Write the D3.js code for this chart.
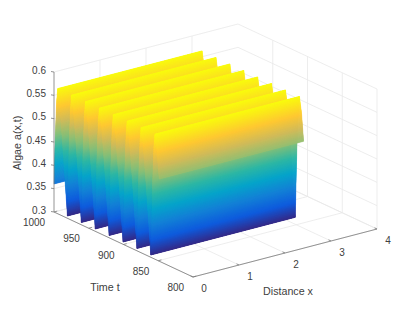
<!DOCTYPE html>
<html><head><meta charset="utf-8">
<script src="https://cdn.jsdelivr.net/npm/d3@7"></script>
<style>html,body{margin:0;padding:0;background:#fff}svg{display:block}text{font-family:"Liberation Sans",Arial,sans-serif;fill:#404040}</style>
</head><body><svg id="c" width="415" height="312"></svg>
<script>
const xTicks = [0,1,2,3,4];
const tTicks = [800,850,900,950,1000];
const zTicks = [0.3,0.35,0.4,0.45,0.5,0.55,0.6];
const zTickLabels = ["0.3","0.35","0.4","0.45","0.5","0.55","0.6"];
const surfaceX = [0, 3.14];
// surface profile along time, far to near
const surfaceT = [1000,998.5,996.2,994.7,991.7,988.7,980.7,978.5,976.2,974.7,971.7,968.7,960.7,958.5,956.2,954.7,951.7,948.7,940.7,938.5,936.2,934.7,931.7,928.7,920.7,918.5,916.2,914.7,911.7,908.7,900.7,898.5,896.2,894.7,891.7,888.7,880.7,878.5,876.2,874.7,871.7,868.7,860.7,858.5,856.2,854.7,851.7,848.7];
const surfaceA = [0.36,0.45,0.54,0.568,0.535,0.476,0.305,0.45,0.54,0.568,0.535,0.476,0.305,0.45,0.54,0.568,0.535,0.476,0.305,0.45,0.54,0.568,0.535,0.476,0.305,0.45,0.54,0.568,0.535,0.476,0.305,0.45,0.54,0.568,0.535,0.476,0.305,0.45,0.54,0.568,0.535,0.476,0.305,0.45,0.54,0.568,0.535,0.476];
const parula = ["#352a87","#0f5cdd","#1481d6","#06a4ca","#2eb7a4","#87bf77","#d1bb59","#fec832","#f9fb0e"];
const parulaStops = [0,0.125,0.25,0.375,0.5,0.625,0.75,0.86,1];

const fx = d3.scaleLinear().domain([0,4]).range([0,1]);
const ft = d3.scaleLinear().domain([800,1000]).range([0,1]);
const fz = d3.scaleLinear().domain([0.3,0.6]).range([0,1]);
const O=[193,277], EX=[184,-48], ET=[-139,-65], EZ=[0,-140];
function P(x,t,z){
  const a=fx(x),b=ft(t),c=fz(z);
  return [O[0]+a*EX[0]+b*ET[0]+c*EZ[0], O[1]+a*EX[1]+b*ET[1]+c*EZ[1]];
}
const color = d3.scaleLinear()
  .domain(parulaStops.map(s=>0.305+(0.568-0.305)*s))
  .range(parula).clamp(true);

const svg = d3.select("#c");
const grid = svg.append("g").attr("stroke","#e8e8e8").attr("stroke-width",0.8).attr("fill","none");
const seg=(g,a,b,col)=>{const l=g.append("line").attr("x1",a[0]).attr("y1",a[1]).attr("x2",b[0]).attr("y2",b[1]);if(col)l.attr("stroke",col);return l;};
xTicks.forEach(x=>{
  seg(grid,P(x,800,0.3),P(x,1000,0.3));
  if(x>0&&x<4) seg(grid,P(x,1000,0.3),P(x,1000,0.6));
});
tTicks.forEach(t=>{
  seg(grid,P(0,t,0.3),P(4,t,0.3));
  if(t<1000) seg(grid,P(4,t,0.3),P(4,t,0.6));
});
zTicks.forEach(z=>{
  seg(grid,P(0,1000,z),P(4,1000,z));
  seg(grid,P(4,1000,z),P(4,800,z));
});

// surface
const surf = svg.append("g");
const line = d3.line();
for(let i=0;i<surfaceT.length-1;i++){
  const t0=surfaceT[i],t1=surfaceT[i+1],z0=surfaceA[i],z1=surfaceA[i+1];
  const n=Math.max(1,Math.ceil(Math.abs(z1-z0)/0.001));
  const mix=(a,b,u)=>a+(b-a)*u;
  d3.range(n).forEach(k=>{
    const u0=k/n,u1=(k+1)/n;
    const ta=mix(t0,t1,u0),tb=mix(t0,t1,u1),za=mix(z0,z1,u0),zb=mix(z0,z1,u1);
    const c=color((za+zb)/2);
    surf.append("path")
      .attr("d",line([P(surfaceX[0],ta,za),P(surfaceX[1],ta,za),P(surfaceX[1],tb,zb),P(surfaceX[0],tb,zb)])+"Z")
      .attr("fill",c).attr("stroke",c).attr("stroke-width",0.5);
  });
}

// axes
const ax = svg.append("g").attr("stroke","#7a7a7a").attr("stroke-width",0.8).attr("fill","none");
seg(ax,P(0,1000,0.3),P(0,1000,0.6));
seg(ax,P(0,1000,0.3),P(0,800,0.3));
seg(ax,P(0,800,0.3),P(4,800,0.3));
zTicks.forEach(z=>{const p=P(0,1000,z);seg(ax,[p[0]-3,p[1]-0.5],p);});
tTicks.forEach(t=>{const p=P(0,t,0.3);seg(ax,p,[p[0]+3.2,p[1]-0.9]);});
xTicks.forEach(x=>{const p=P(x,800,0.3);seg(ax,p,[p[0]-2.5,p[1]-1.2]);});

const txt=(s,x,y,size,anchor,rot)=>{
  const e=svg.append("text").text(s).attr("font-size",size).attr("text-anchor",anchor)
    .attr("dominant-baseline","central");
  if(rot) e.attr("transform",`translate(${x},${y}) rotate(${rot})`);
  else e.attr("x",x).attr("y",y);
};
zTicks.forEach((z,i)=>{const p=P(0,1000,z);txt(zTickLabels[i],p[0]-8,p[1]-2,10,"end");});
tTicks.forEach(t=>{const p=P(0,t,0.3);txt(String(t),p[0]-8.8,p[1]+10.7,10,"end");});
xTicks.forEach(x=>{const p=P(x,800,0.3);txt(String(x),p[0]+11,p[1]+11.5,10,"middle");});
txt("Time t",105,287,10.7,"middle");
txt("Distance x",288,291,10.7,"middle");
txt("Algae a(x,t)",17,143,10.7,"middle",-90);
</script></body></html>
